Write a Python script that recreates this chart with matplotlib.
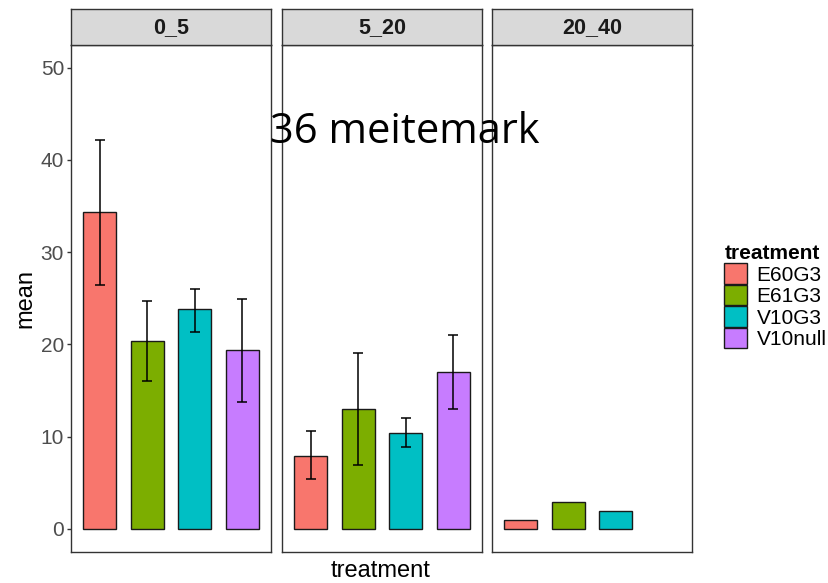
import matplotlib
matplotlib.use("Agg")
import numpy as np
import matplotlib.pyplot as plt
from matplotlib.patches import Patch

plt.rcParams['font.family'] = ['Liberation Sans', 'DejaVu Sans']

# data
depths = ["0_5", "5_20", "20_40"]
treatments = ["E60G3", "E61G3", "V10G3", "V10null"]
colors = ["#F8766D", "#7CAE00", "#00BFC4", "#C77CFF"]

mean_0_5 = [34.4, 20.4, 23.8, 19.4]
low_0_5 = [26.4, 16.0, 21.3, 13.8]
high_0_5 = [42.1, 24.7, 26.0, 24.9]

mean_5_20 = [7.9, 13.0, 10.4, 17.0]
low_5_20 = [5.4, 6.9, 8.9, 13.0]
high_5_20 = [10.6, 19.1, 12.0, 21.0]

mean_20_40 = [1.0, 2.9, 1.9, np.nan]
low_20_40 = [np.nan, np.nan, np.nan, np.nan]
high_20_40 = [np.nan, np.nan, np.nan, np.nan]

means = [mean_0_5, mean_5_20, mean_20_40]
lows = [low_0_5, low_5_20, low_20_40]
highs = [high_0_5, high_5_20, high_20_40]

W, H = 829, 583
fig = plt.figure(figsize=(W / 100, H / 100), dpi=100)

def fx(x):
    return x / W

def fy(y):
    return 1 - y / H

lefts = [71, 282, 492]
pw = 200
top, bottom, strip_top = 44.5, 552, 9

border = "#333333"
xpos = np.arange(1, 5)

for k, left in enumerate(lefts):
    ax = fig.add_axes([fx(left), fy(bottom), pw / W, (bottom - top) / H])
    m = np.array(means[k], dtype=float)
    lo = np.array(lows[k], dtype=float)
    hi = np.array(highs[k], dtype=float)
    ok = ~np.isnan(m)
    ax.bar(xpos[ok], m[ok], width=0.7, color=np.array(colors)[ok],
           edgecolor="#1a1a1a", linewidth=1.0, zorder=2)
    eok = ~np.isnan(lo)
    if eok.any():
        ax.errorbar(xpos[eok], (lo[eok] + hi[eok]) / 2,
                    yerr=(hi[eok] - lo[eok]) / 2, fmt="none",
                    ecolor="black", elinewidth=1.1, capsize=3.4,
                    capthick=1.1, zorder=3)
    ax.set_xlim(0.4, 4.6)
    ax.set_ylim(-2.5, 52.5)
    ax.set_xticks([])
    for s in ax.spines.values():
        s.set_color(border)
        s.set_linewidth(1.0)
    if k == 0:
        ax.set_yticks([0, 10, 20, 30, 40, 50])
        ax.tick_params(axis="y", length=3, width=1, color=border,
                       labelsize=15, labelcolor="#4D4D4D", pad=2)
    else:
        ax.set_yticks([])

    sax = fig.add_axes([fx(left), fy(top), pw / W, (top - strip_top) / H])
    sax.set_facecolor("#D9D9D9")
    sax.set_xticks([])
    sax.set_yticks([])
    for s in sax.spines.values():
        s.set_color(border)
        s.set_linewidth(1.0)
    sax.text(0.5, 0.48, depths[k], ha="center", va="center",
             fontsize=15.5, fontweight="bold", color="#1A1A1A",
             transform=sax.transAxes)

fig.text(fx(25), fy(298), "mean", rotation=90, ha="center", va="center",
         fontsize=17)
fig.text(fx(381), fy(571), "treatment", ha="center", va="center",
         fontsize=17)

handles = [Patch(facecolor=c, edgecolor="#1a1a1a", linewidth=1.0)
           for c in colors]
leg = fig.legend(handles, treatments, loc="upper left",
                 bbox_to_anchor=(fx(714), fy(234)), frameon=False,
                 title="treatment", fontsize=15, handlelength=1.1,
                 handleheight=1.15, labelspacing=0.0, handletextpad=0.45,
                 borderpad=0, alignment="left")
leg.get_title().set_fontweight("bold")
leg.get_title().set_fontsize(15)

fig.text(fx(405), fy(143), "36 meitemark", ha="center", va="baseline",
         fontsize=30, family="Open Sans", color="black")

fig.savefig("out.png", dpi=100)
